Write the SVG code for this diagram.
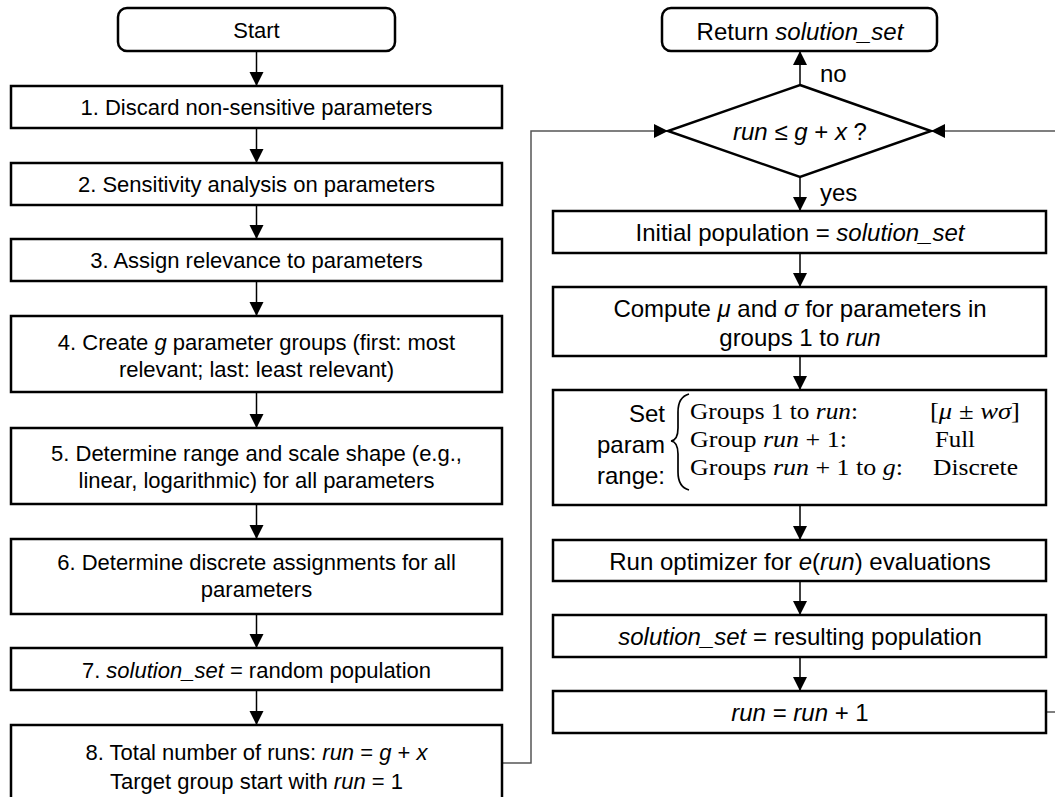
<svg xmlns="http://www.w3.org/2000/svg" width="1055" height="797" viewBox="0 0 1055 797">
<style>
.box{fill:#fff;stroke:#000;stroke-width:2.5}
.t{font-family:"Liberation Sans",Arial,sans-serif;fill:#000;text-anchor:middle}
.l{font-size:22px}
.r{font-size:24px}
.m{font-family:"Liberation Serif","Times New Roman",serif;font-size:23px;fill:#000}
.i{font-style:italic}
.c{fill:none;stroke:#000;stroke-width:1.5}
.loop{fill:none;stroke:#555;stroke-width:1.5}
</style>
<defs>
<marker id="ah" markerUnits="userSpaceOnUse" markerWidth="14" markerHeight="15" viewBox="0 0 14 14" refX="14" refY="7" orient="auto">
<path d="M0,0 L14,7 L0,14 Z" fill="#000"/>
</marker>
</defs>
<rect width="1055" height="797" fill="#fff"/>

<g id="connectors">
<line class="c" x1="256.5" y1="51" x2="256.5" y2="86" marker-end="url(#ah)"/>
<line class="c" x1="256.5" y1="128" x2="256.5" y2="163" marker-end="url(#ah)"/>
<line class="c" x1="256.5" y1="205" x2="256.5" y2="239" marker-end="url(#ah)"/>
<line class="c" x1="256.5" y1="281" x2="256.5" y2="316" marker-end="url(#ah)"/>
<line class="c" x1="256.5" y1="392" x2="256.5" y2="428" marker-end="url(#ah)"/>
<line class="c" x1="256.5" y1="504" x2="256.5" y2="539" marker-end="url(#ah)"/>
<line class="c" x1="256.5" y1="614" x2="256.5" y2="648" marker-end="url(#ah)"/>
<line class="c" x1="256.5" y1="690" x2="256.5" y2="725" marker-end="url(#ah)"/>
<path class="loop" d="M503,763 H531 V131 H668" marker-end="url(#ah)"/>
<line class="c" x1="800" y1="85" x2="800" y2="51" marker-end="url(#ah)"/>
<line class="c" x1="800" y1="177" x2="800" y2="211" marker-end="url(#ah)"/>
<line class="c" x1="800" y1="253" x2="800" y2="287" marker-end="url(#ah)"/>
<line class="c" x1="800" y1="356" x2="800" y2="390" marker-end="url(#ah)"/>
<line class="c" x1="800" y1="505" x2="800" y2="540" marker-end="url(#ah)"/>
<line class="c" x1="800" y1="581" x2="800" y2="615" marker-end="url(#ah)"/>
<line class="c" x1="800" y1="657" x2="800" y2="691" marker-end="url(#ah)"/>
<path class="loop" d="M1046,712 H1064 V131 H931" marker-end="url(#ah)"/>
<text class="t r" x="820" y="82" style="text-anchor:start">no</text>
<text class="t r" x="820" y="201" style="text-anchor:start">yes</text>
</g>

<g id="start">
<rect class="box" x="118" y="8" width="277" height="43" rx="9"/>
<text class="t l" x="256.5" y="38">Start</text>
</g>
<g id="step1">
<rect class="box" x="11" y="86" width="491" height="42"/>
<text class="t l" x="256.5" y="115">1. Discard non-sensitive parameters</text>
</g>
<g id="step2">
<rect class="box" x="11" y="163" width="491" height="42"/>
<text class="t l" x="256.5" y="192">2. Sensitivity analysis on parameters</text>
</g>
<g id="step3">
<rect class="box" x="11" y="239" width="491" height="42"/>
<text class="t l" x="256.5" y="268">3. Assign relevance to parameters</text>
</g>
<g id="step4">
<rect class="box" x="11" y="316" width="491" height="76"/>
<text class="t l" x="256.5" y="350">4. Create <tspan class="i">g</tspan> parameter groups (first: most</text>
<text class="t l" x="256.5" y="377">relevant; last: least relevant)</text>
</g>
<g id="step5">
<rect class="box" x="11" y="428" width="491" height="76"/>
<text class="t l" x="256.5" y="461">5. Determine range and scale shape (e.g.,</text>
<text class="t l" x="256.5" y="488">linear, logarithmic) for all parameters</text>
</g>
<g id="step6">
<rect class="box" x="11" y="539" width="491" height="75"/>
<text class="t l" x="256.5" y="570">6. Determine discrete assignments for all</text>
<text class="t l" x="256.5" y="597">parameters</text>
</g>
<g id="step7">
<rect class="box" x="11" y="648" width="491" height="42"/>
<text class="t l" x="256.5" y="678">7. <tspan class="i">solution_set</tspan> = random population</text>
</g>
<g id="step8">
<rect class="box" x="11" y="725" width="491" height="78"/>
<text class="t l" x="256.5" y="760">8. Total number of runs: <tspan class="i">run</tspan> = <tspan class="i">g</tspan> + <tspan class="i">x</tspan></text>
<text class="t l" x="256.5" y="789">Target group start with <tspan class="i">run</tspan> = 1</text>
</g>

<g id="return">
<rect class="box" x="662" y="8" width="275" height="43" rx="9"/>
<text class="t r" x="800" y="40">Return <tspan class="i">solution_set</tspan></text>
</g>
<g id="decision">
<polygon class="box" points="800,85 931,131 800,177 668,131"/>
<text class="t r" x="800" y="140"><tspan class="i">run</tspan> ≤ <tspan class="i">g</tspan> + <tspan class="i">x</tspan> ?</text>
</g>
<g id="initial">
<rect class="box" x="553" y="211" width="493" height="42"/>
<text class="t r" x="800" y="241">Initial population = <tspan class="i">solution_set</tspan></text>
</g>
<g id="compute">
<rect class="box" x="553" y="287" width="493" height="69"/>
<text class="t r" x="800" y="317">Compute <tspan class="i">μ</tspan> and <tspan class="i">σ</tspan> for parameters in</text>
<text class="t r" x="800" y="346">groups 1 to <tspan class="i">run</tspan></text>
</g>
<g id="setrange">
<rect class="box" x="553" y="390" width="493" height="115"/>
<text class="t r" x="665" y="422" style="text-anchor:end">Set</text>
<text class="t r" x="665" y="453" style="text-anchor:end">param</text>
<text class="t r" x="665" y="484" style="text-anchor:end">range:</text>
<path d="M689,394 Q678,397 678,412 V428 Q678,440 671,441 Q678,442 678,454 V472 Q678,487 689,490" fill="none" stroke="#000" stroke-width="1.7"/>
<text class="m" x="690" y="419" textLength="168" lengthAdjust="spacingAndGlyphs">Groups 1 to <tspan class="i">run</tspan>:</text>
<text class="m" x="690" y="447" textLength="157" lengthAdjust="spacingAndGlyphs">Group <tspan class="i">run</tspan> + 1:</text>
<text class="m" x="690" y="475" textLength="213" lengthAdjust="spacingAndGlyphs">Groups <tspan class="i">run</tspan> + 1 to <tspan class="i">g</tspan>:</text>
<text class="m" x="930" y="419" textLength="90" lengthAdjust="spacingAndGlyphs">[<tspan class="i">μ</tspan> ± <tspan class="i">wσ</tspan>]</text>
<text class="m" x="935" y="447" textLength="40" lengthAdjust="spacingAndGlyphs">Full</text>
<text class="m" x="933" y="475" textLength="85" lengthAdjust="spacingAndGlyphs">Discrete</text>
</g>
<g id="optimizer">
<rect class="box" x="553" y="540" width="493" height="41"/>
<text class="t r" x="800" y="570">Run optimizer for <tspan class="i">e</tspan>(<tspan class="i">run</tspan>) evaluations</text>
</g>
<g id="resulting">
<rect class="box" x="553" y="615" width="493" height="42"/>
<text class="t r" x="800" y="645"><tspan class="i">solution_set</tspan> = resulting population</text>
</g>
<g id="increment">
<rect class="box" x="553" y="691" width="493" height="42"/>
<text class="t r" x="800" y="721"><tspan class="i">run</tspan> = <tspan class="i">run</tspan> + 1</text>
</g>
</svg>
